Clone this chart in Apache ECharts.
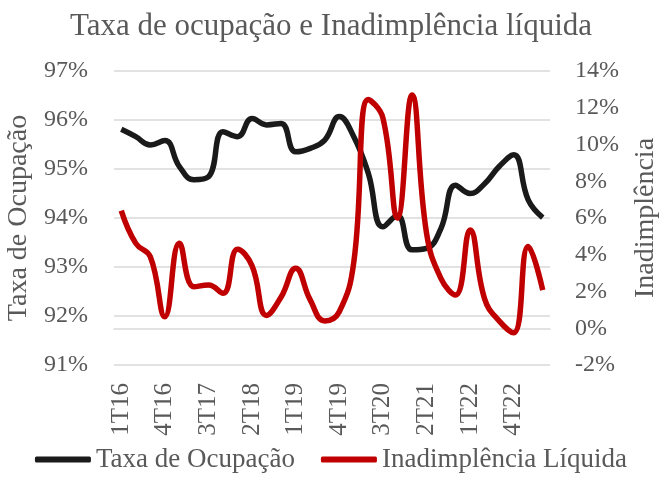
<!DOCTYPE html>
<html lang="pt">
<head>
    <meta charset="UTF-8">
    <title>Taxa de ocupação e Inadimplência líquida</title>
    <style>
        html, body { margin: 0; padding: 0; background: #fff; }
    </style>
</head>
<body>
<div id="container" style="width: 662px;height:481px;"></div>

<script src="https://cdn.jsdelivr.net/npm/echarts@6/dist/echarts.min.js"></script>
<script type="text/javascript">

// trimestres
var quarters = ['1T16','2T16','3T16','4T16','1T17','2T17','3T17','4T17',
                '1T18','2T18','3T18','4T18','1T19','2T19','3T19','4T19',
                '1T20','2T20','3T20','4T20','1T21','2T21','3T21','4T21',
                '1T22','2T22','3T22','4T22','1T23','2T23'];

// taxa de ocupação (%)
var ocupacao = [95.81, 95.66, 95.49, 95.58, 95.05, 94.78, 94.84, 95.76,
                95.66, 96.03, 95.90, 95.93, 95.35, 95.42, 95.59, 96.07,
                95.66, 94.91, 93.82, 94.05, 93.35, 93.38, 93.79, 94.67,
                94.50, 94.70, 95.05, 95.29, 94.37, 94.01];

// inadimplência líquida (%)
var inadimplencia = [6.40, 4.62, 3.89, 0.63, 4.62, 2.26, 2.35, 1.90,
                     4.30, 3.40, 0.70, 1.70, 3.26, 1.54, 0.40, 0.90,
                     3.60, 12.45, 11.45, 6.00, 12.70, 5.20, 2.70, 1.81,
                     5.35, 1.60, 0.40, -0.25, 4.45, 2.08];

var serif = 'Liberation Serif';
var gray = '#595959';

var myChart = echarts.init(document.getElementById('container'));
var option = {
    animation: false,
    title: {
        text: 'Taxa de ocupação e Inadimplência líquida',
        left: 'center',
        top: 6,
        textStyle: { fontFamily: serif, fontSize: 31, fontWeight: 'normal', color: gray }
    },
    legend: {
        bottom: 3,
        left: 'center',
        itemWidth: 56,
        itemHeight: 6,
        itemGap: 26,
        icon: 'roundRect',
        textStyle: { fontFamily: serif, fontSize: 27, color: gray },
        data: ['Taxa de Ocupação', 'Inadimplência Líquida']
    },
    grid: {
        left: 114,
        right: 112,
        top: 71,
        bottom: 116,
        outerBoundsMode: 'none'
    },
    xAxis: {
        type: 'category',
        boundaryGap: true,
        data: quarters,
        axisLine: { lineStyle: { color: '#d9d9d9', width: 1.5 } },
        axisTick: { show: false },
        axisLabel: {
            interval: 2,
            rotate: 90,
            margin: 18,
            fontFamily: serif,
            fontSize: 25,
            color: gray
        }
    },
    yAxis: [
        {
            type: 'value',
            min: 91,
            max: 97,
            interval: 1,
            name: 'Taxa de Ocupação',
            nameLocation: 'middle',
            nameRotate: 90,
            nameGap: 76,
            nameTextStyle: { fontFamily: serif, fontSize: 28, color: gray },
            axisLabel: {
                formatter: '{value}%',
                margin: 26,
                fontFamily: serif,
                fontSize: 24,
                color: gray
            },
            splitLine: { lineStyle: { color: '#d9d9d9', width: 1.5 } }
        },
        {
            type: 'value',
            min: -2,
            max: 14,
            interval: 2,
            name: 'Inadimplência',
            nameLocation: 'middle',
            nameRotate: 90,
            nameGap: 82,
            nameTextStyle: { fontFamily: serif, fontSize: 28, color: gray },
            axisLabel: {
                formatter: '{value}%',
                margin: 25,
                fontFamily: serif,
                fontSize: 24,
                color: gray
            },
            splitLine: { show: false }
        }
    ],
    series: [
        {
            name: 'Taxa de Ocupação',
            type: 'line',
            yAxisIndex: 0,
            data: ocupacao,
            smooth: 0.45,
            showSymbol: false,
            itemStyle: { color: '#1a1a1a' },
            lineStyle: { color: '#1a1a1a', width: 5.5 }
        },
        {
            name: 'Inadimplência Líquida',
            type: 'line',
            yAxisIndex: 1,
            data: inadimplencia,
            smooth: 0.45,
            showSymbol: false,
            itemStyle: { color: '#c00000' },
            lineStyle: { color: '#c00000', width: 5.5 }
        }
    ]
};

myChart.setOption(option);

</script>
</body>
</html>
